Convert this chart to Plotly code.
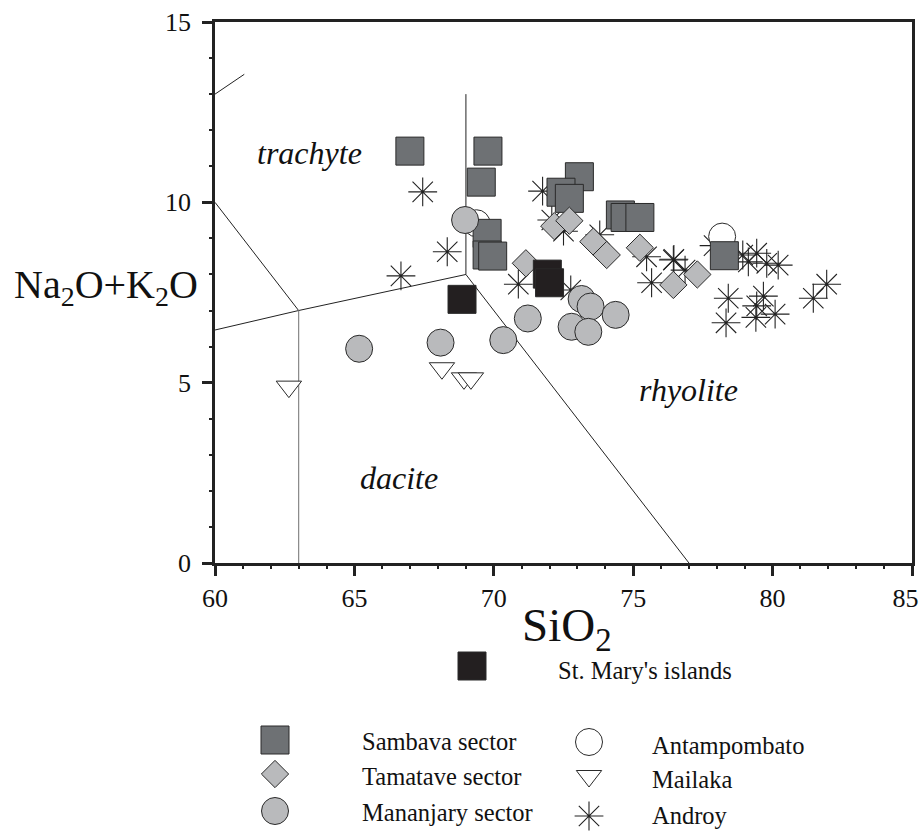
import plotly.graph_objects as go

# ---------------- data ----------------
sambava_x = [66.99, 69.79, 69.55, 73.07, 72.41, 72.71, 74.54, 74.71, 75.24, 69.76, 69.76, 69.96, 78.27]
sambava_y = [11.42, 11.42, 10.56, 10.71, 10.28, 10.11, 9.65, 9.58, 9.58, 9.14, 8.54, 8.51, 8.52]
stmary_x = [68.86, 71.92, 72.00]
stmary_y = [7.31, 8.01, 7.77]
tamatave_x = [71.15, 72.17, 72.71, 73.57, 74.05, 75.24, 76.44, 77.30]
tamatave_y = [8.31, 9.34, 9.49, 8.91, 8.54, 8.74, 7.71, 8.00]
mananjary_x = [65.17, 68.09, 68.97, 71.22, 70.34, 73.15, 73.47, 74.37, 72.79, 73.39]
mananjary_y = [5.94, 6.11, 9.51, 6.78, 6.18, 7.32, 7.11, 6.88, 6.55, 6.41]
antampombato_x = [69.38, 78.19]
antampombato_y = [9.42, 9.05]
mailaka_x = [62.65, 68.14, 68.93, 69.18]
mailaka_y = [4.89, 5.40, 5.12, 5.12]
androy_x = [67.45, 68.33, 66.67, 71.75, 72.08, 72.50, 73.80, 70.88, 72.76, 75.48, 76.44, 75.66,
            76.46, 76.86, 77.90, 78.41, 78.33, 78.93, 79.13, 79.43, 79.79, 80.20, 79.67, 79.43,
            79.40, 80.09, 81.46, 81.94]
androy_y = [10.29, 8.63, 7.96, 10.31, 9.51, 9.20, 9.10, 7.73, 7.57, 8.49, 8.40, 7.77,
            8.42, 8.12, 8.80, 7.34, 6.66, 8.54, 8.35, 8.59, 8.31, 8.26, 7.40, 7.13,
            6.81, 6.90, 7.34, 7.73]

# TAS field boundaries
bound_x = [60, 61.05, None, 60, 63, None, 60, 63, 69, None, 69, 69, None, 69, 77]
bound_y = [13.0, 13.55, None, 10, 7, None, 6.46, 7, 8, None, 8, 13, None, 8, 0]
bound63_x = [63, 63]
bound63_y = [0, 7]

field_names = ["trachyte", "rhyolite", "dacite"]
field_x = [63.4, 76.97, 66.6]
field_y = [11.37, 4.8, 2.36]

x_ticks = [60, 65, 70, 75, 80, 85]
x_tick_labels = ["60", "65", "70", "75", "80", "85\u00a0\u00a0"]
y_ticks = [0, 5, 10, 15]

SERIF = "Liberation Serif"
DARK = "#231f20"
SAMBAVA = "#6e7174"
LIGHT = "#b9babc"

W, H = 922, 834
X0, X1, Y0, Y1 = 215, 912, 563, 22   # plot box in px

fig = go.Figure()

# boundaries
fig.add_trace(go.Scatter(x=bound_x, y=bound_y, mode="lines",
                         line=dict(color="#222", width=1), hoverinfo="skip"))
fig.add_trace(go.Scatter(x=bound63_x, y=bound63_y, mode="lines",
                         line=dict(color="#888", width=1.2), hoverinfo="skip"))

mk_line = dict(color="#2a2a2a", width=1)
star = dict(symbol="asterisk-open", size=24, color="#222", line=dict(color="#222", width=1.1))
fig.add_trace(go.Scatter(x=androy_x, y=androy_y, mode="markers", name="Androy", marker=star))
fig.add_trace(go.Scatter(x=antampombato_x, y=antampombato_y, mode="markers", name="Antampombato",
                         marker=dict(symbol="circle", size=27, color="white", line=mk_line)))
fig.add_trace(go.Scatter(x=mailaka_x, y=mailaka_y, mode="markers", name="Mailaka",
                         marker=dict(symbol="triangle-down", size=22, color="white", line=mk_line)))
fig.add_trace(go.Scatter(x=sambava_x, y=sambava_y, mode="markers", name="Sambava sector",
                         marker=dict(symbol="square", size=28, color=SAMBAVA, line=mk_line)))
fig.add_trace(go.Scatter(x=mananjary_x, y=mananjary_y, mode="markers", name="Mananjary sector",
                         marker=dict(symbol="circle", size=27, color=LIGHT, line=mk_line)))
fig.add_trace(go.Scatter(x=tamatave_x, y=tamatave_y, mode="markers", name="Tamatave sector",
                         marker=dict(symbol="diamond", size=21, color=LIGHT, line=mk_line)))
fig.add_trace(go.Scatter(x=stmary_x, y=stmary_y, mode="markers", name="St. Mary's islands",
                         marker=dict(symbol="square", size=28, color=DARK, line=mk_line)))

# field labels
for name, fx, fy in zip(field_names, field_x, field_y):
    fig.add_annotation(x=fx, y=fy, xref="x", yref="y", text="<i>%s</i>" % name,
                       showarrow=False, font=dict(family=SERIF, size=32, color="#111"))

# ---------------- custom legend (page-pixel overlay axis) ----------------
leg_items = [
    ("St. Mary's islands", "square", 28, DARK, 472, 666, 556, 670),
    ("Sambava sector", "square", 28, SAMBAVA, 275, 740, 360, 741),
    ("Tamatave sector", "diamond", 21, LIGHT, 275, 774, 360, 776),
    ("Mananjary sector", "circle", 27, LIGHT, 275, 811, 360, 812),
    ("Antampombato", "circle", 27, "white", 589, 742, 650, 745),
    ("Mailaka", "triangle-down", 22, "white", 589, 776, 650, 779),
    ("Androy", "asterisk-open", 24, None, 589, 816, 650, 815),
]
for label, sym, sz, col, mx, my, tx, ty in leg_items:
    if sym == "asterisk-open":
        m = star
    else:
        m = dict(symbol=sym, size=sz, color=col, line=mk_line)
    fig.add_trace(go.Scatter(x=[mx], y=[my], xaxis="x2", yaxis="y2", mode="markers",
                             marker=m, hoverinfo="skip"))
    fig.add_annotation(x=tx, y=ty, xref="x2", yref="y2", text=label, showarrow=False,
                       xanchor="left", yanchor="middle",
                       font=dict(family=SERIF, size=24.5, color="#111"))

# axis titles
fig.add_annotation(x=106, y=287, xref="x2", yref="y2", text="Na<sub>2</sub>O+K<sub>2</sub>O",
                   showarrow=False, font=dict(family=SERIF, size=40, color="#111"))
fig.add_annotation(x=567, y=628, xref="x2", yref="y2", text="SiO<sub>2</sub>",
                   showarrow=False, font=dict(family=SERIF, size=47, color="#111"))

axis_common = dict(showgrid=False, zeroline=False, showline=True, linewidth=2.5, automargin=False,
                   linecolor="#222", mirror=True, ticks="outside", ticklen=10, tickwidth=2.5,
                   tickcolor="#222", tickfont=dict(family=SERIF, size=26, color="#111"),
                   ticklabeloverflow="allow",
                   minor=dict(ticks="outside", ticklen=3, tickwidth=2, tickcolor="#222", dtick=1))

fig.update_layout(
    template="none",
    width=W, height=H, showlegend=False,
    margin=dict(l=0, r=0, t=0, b=0, pad=0, autoexpand=False),
    paper_bgcolor="white", plot_bgcolor="rgba(0,0,0,0)",
    xaxis=dict(range=[60, 85], tickvals=x_ticks, ticktext=x_tick_labels,
               domain=[X0 / W, X1 / W], anchor="y", **axis_common),
    yaxis=dict(range=[0, 15], tickvals=y_ticks, domain=[(H - Y0) / H, (H - Y1) / H], anchor="x",
               ticklabelstandoff=6, **axis_common),
    xaxis2=dict(range=[0, W], domain=[0, 1], visible=False, anchor="y2", fixedrange=True,
                automargin=False),
    yaxis2=dict(range=[H, 0], domain=[0, 1], visible=False, anchor="x2", fixedrange=True,
                automargin=False),
)

fig.write_html("out.html",
               config={"displayModeBar": False},
               post_script="document.body.style.margin='0px';"
                           "document.body.style.overflow='hidden';")
